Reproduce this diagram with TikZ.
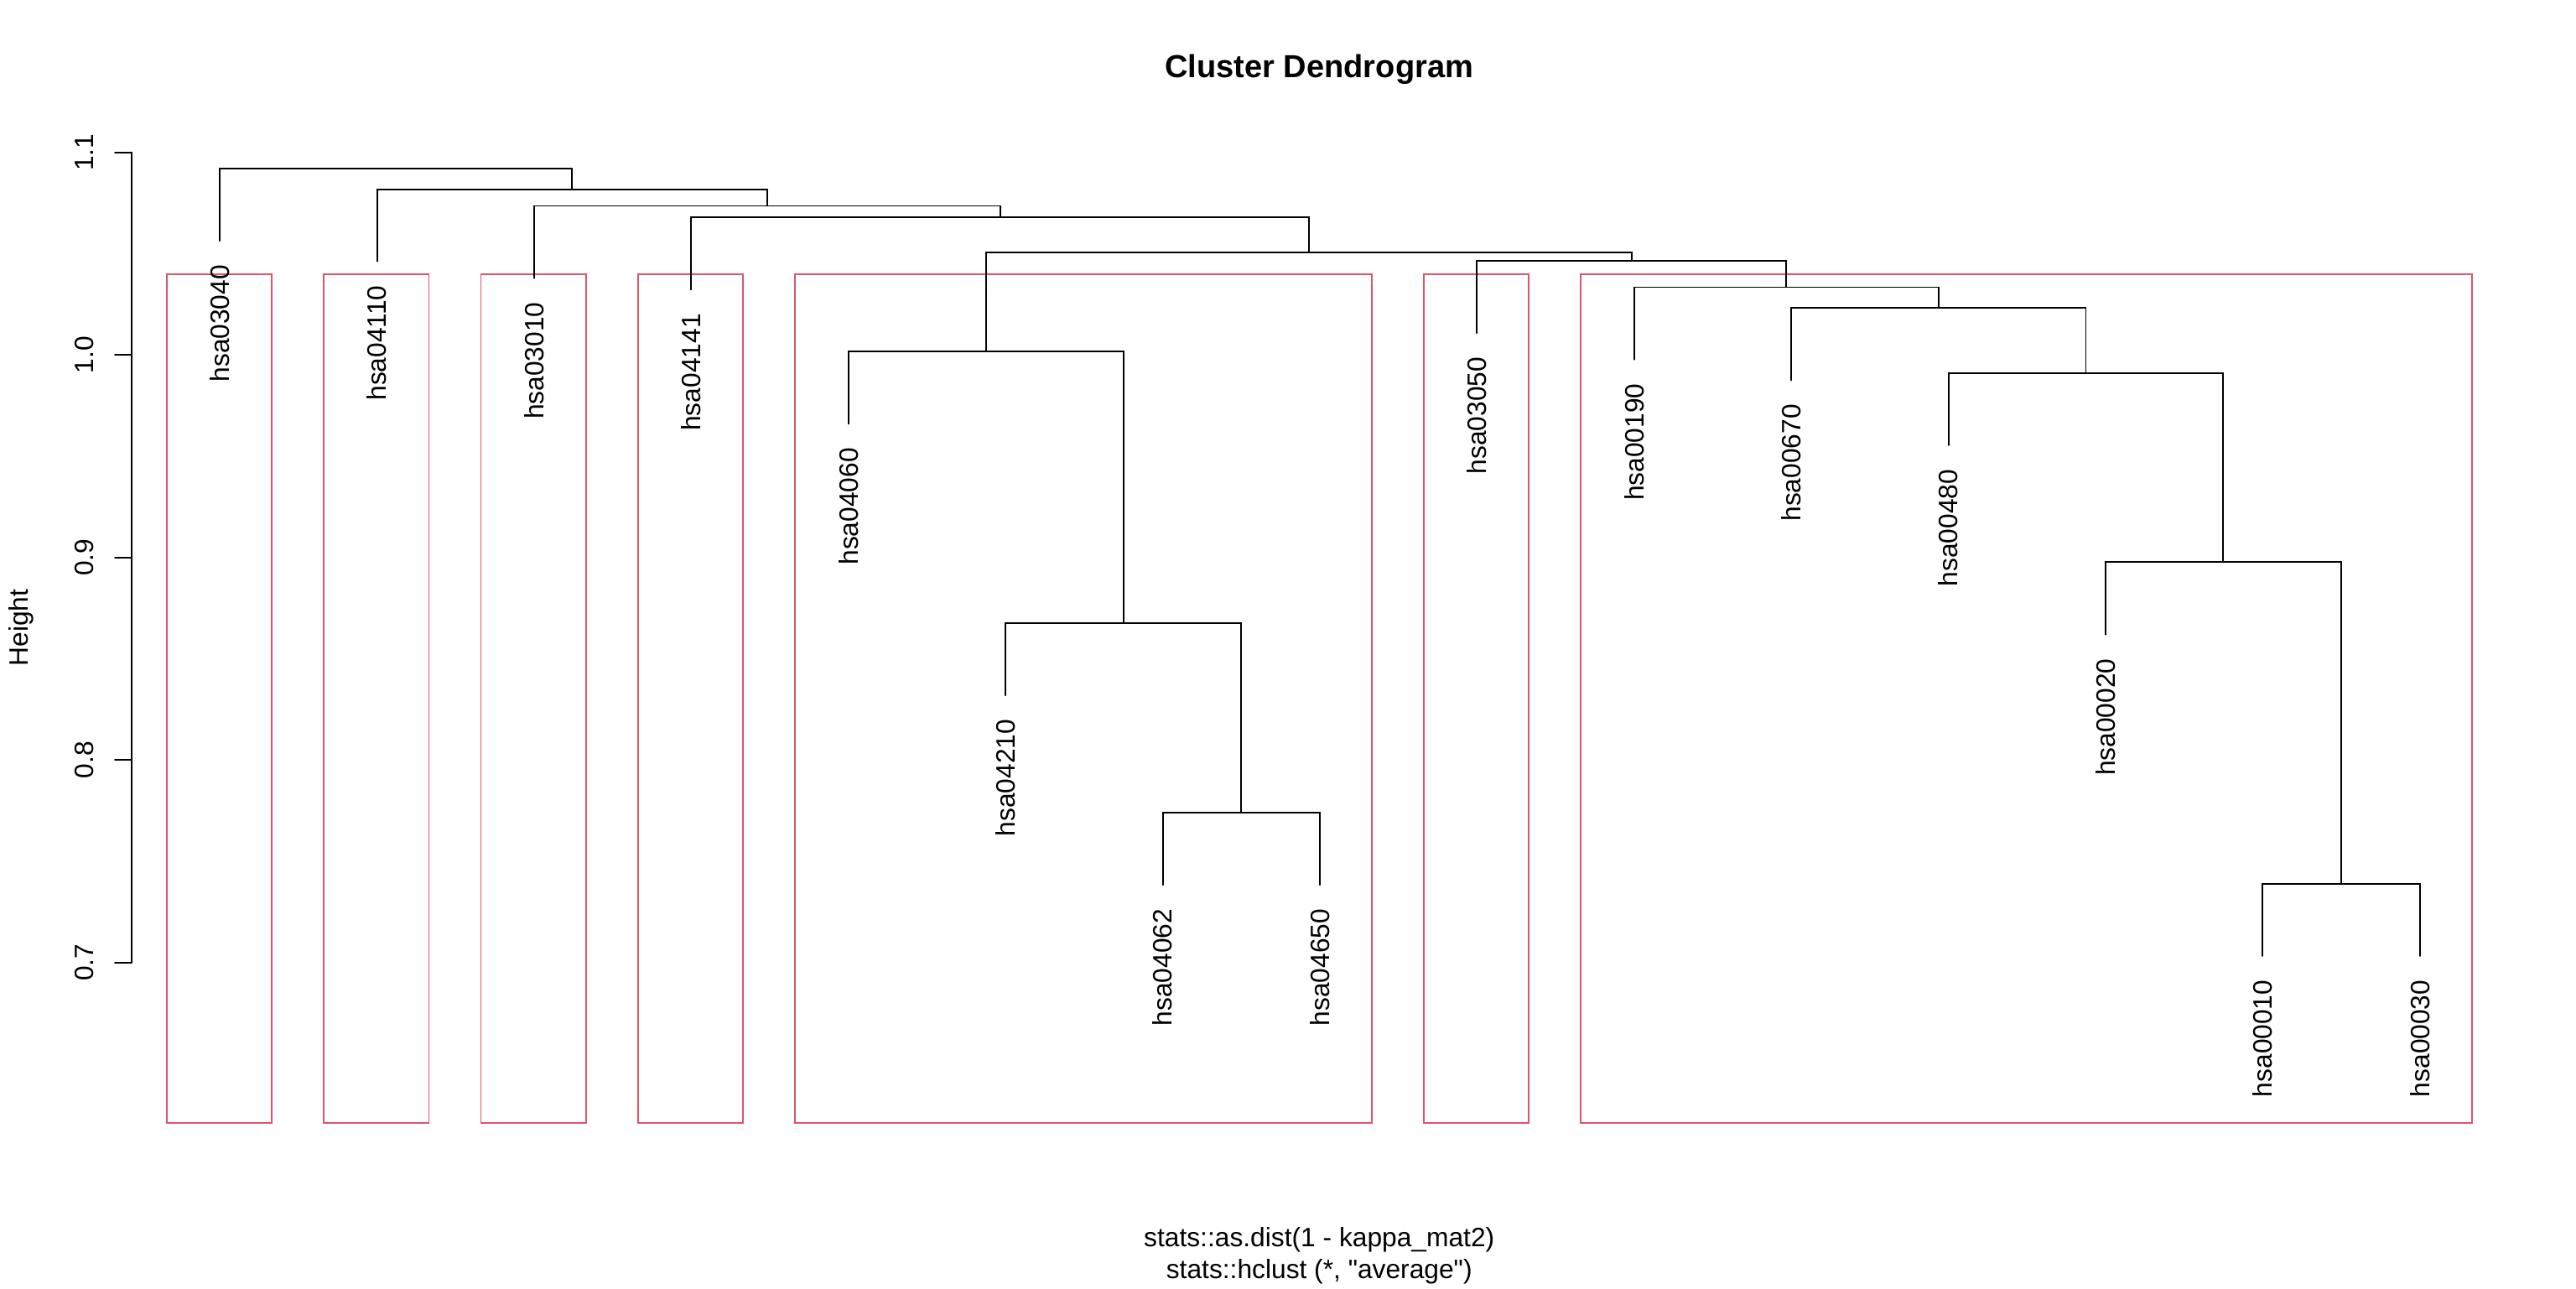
\documentclass[tikz,border=0pt]{standalone}
\usepackage{fontspec}
\setmainfont{Liberation Sans}[Ligatures=TeXOff]
\definecolor{rboxred}{HTML}{DF536B}
\begin{document}
\begin{tikzpicture}[x=0.5pt,y=-0.5pt,
  dend/.style={draw=black,line width=0.5pt,line cap=round},
  clbox/.style={draw=rboxred,line width=0.45pt},
  basefont/.style={font=\fontsize{8.1}{9.7}\selectfont},
  leaflab/.style={basefont,rotate=90,anchor=east,inner sep=0pt},
  ticklab/.style={basefont,rotate=90,anchor=base,inner sep=0pt},
  txt/.style={basefont,anchor=base,inner sep=0pt}]
\useasboundingbox (0,0) rectangle (1568,784);

% title and axis captions
\node[anchor=base,inner sep=0pt,font=\bfseries\fontsize{9.7}{11.6}\selectfont] (title) at (803,47.1) {Cluster Dendrogram};
\node[txt] (xlab) at (803,758.7) {stats::as.dist(1 - kappa\_mat2)};
\node[txt] (sublab) at (803,778.1) {stats::hclust (*, "average")};
\node[ticklab] (ylab) at (17,382) {Height};

% y axis
\coordinate (ax11) at (80,92.7);
\coordinate (ax10) at (80,216.0);
\coordinate (ax09) at (80,339.3);
\coordinate (ax08) at (80,462.6);
\coordinate (ax07) at (80,585.9);
\draw[dend] (ax11) -- (ax07);
\foreach \n/\t in {ax11/1.1,ax10/1.0,ax09/0.9,ax08/0.8,ax07/0.7}{
  \draw[dend] (\n) -- ++(-10,0);
  \node[ticklab] (lab\n) at ([xshift=-11.5pt]\n) {\t};
}

% cluster rectangles
\draw[clbox] (101.4,166.75) rectangle (165.5,683.3);
\draw[clbox] (197.0,166.75) rectangle (261.1,683.3);
\draw[clbox] (292.7,166.75) rectangle (356.8,683.3);
\draw[clbox] (388.3,166.75) rectangle (452.4,683.3);
\draw[clbox] (484.0,166.75) rectangle (835.0,683.3);
\draw[clbox] (866.5,166.75) rectangle (930.6,683.3);
\draw[clbox] (962.2,166.75) rectangle (1504.5,683.3);

% leaf tips
\coordinate (t1)  at (133.9,146.6);
\coordinate (t2)  at (229.5,159.1);
\coordinate (t3)  at (325.2,169.3);
\coordinate (t4)  at (420.8,176.3);
\coordinate (t5)  at (516.5,257.9);
\coordinate (t6)  at (612.1,423.2);
\coordinate (t7)  at (707.7,538.5);
\coordinate (t8)  at (803.4,538.5);
\coordinate (t9)  at (899.0,202.7);
\coordinate (t10) at (994.7,218.8);
\coordinate (t11) at (1090.3,231.4);
\coordinate (t12) at (1186.0,271.0);
\coordinate (t13) at (1281.6,386.2);
\coordinate (t14) at (1377.2,581.8);
\coordinate (t15) at (1472.9,581.8);

% leaf labels
\foreach \i/\s in {1/hsa03040,2/hsa04110,3/hsa03010,4/hsa04141,5/hsa04060,
  6/hsa04210,7/hsa04062,8/hsa04650,9/hsa03050,10/hsa00190,11/hsa00670,
  12/hsa00480,13/hsa00020,14/hsa00010,15/hsa00030}{
  \node[leaflab] (l\i) at ([yshift=-7.15pt]t\i) {\s};
}

% merge points
\coordinate (m1)  at (1425.05,537.8);
\coordinate (m2)  at (755.55,494.5);
\coordinate (m3)  at (683.8,379.2);
\coordinate (m4)  at (600.15,213.9);
\coordinate (m5)  at (1353.3,342.2);
\coordinate (m6)  at (1269.65,227.0);
\coordinate (m7)  at (1179.98,187.4);
\coordinate (m8)  at (1087.34,174.8);
\coordinate (m9)  at (993.17,158.7);
\coordinate (m10) at (796.66,153.6);
\coordinate (m11) at (608.73,132.3);
\coordinate (m12) at (466.97,125.3);
\coordinate (m13) at (348.2,115.1);
\coordinate (m14) at (241.05,102.6);

% dendrogram branches
\draw[dend] (t14) |- (m1) -| (t15);
\draw[dend] (t7) |- (m2) -| (t8);
\draw[dend] (t6) |- (m3) -| (m2);
\draw[dend] (t5) |- (m4) -| (m3);
\draw[dend] (t13) |- (m5) -| (m1);
\draw[dend] (t12) |- (m6) -| (m5);
\draw[dend] (t11) |- (m7) -| (m6);
\draw[dend] (t10) |- (m8) -| (m7);
\draw[dend] (t9) |- (m9) -| (m8);
\draw[dend] (m4) |- (m10) -| (m9);
\draw[dend] (t4) |- (m11) -| (m10);
\draw[dend] (t3) |- (m12) -| (m11);
\draw[dend] (t2) |- (m13) -| (m12);
\draw[dend] (t1) |- (m14) -| (m13);
\end{tikzpicture}
\end{document}
